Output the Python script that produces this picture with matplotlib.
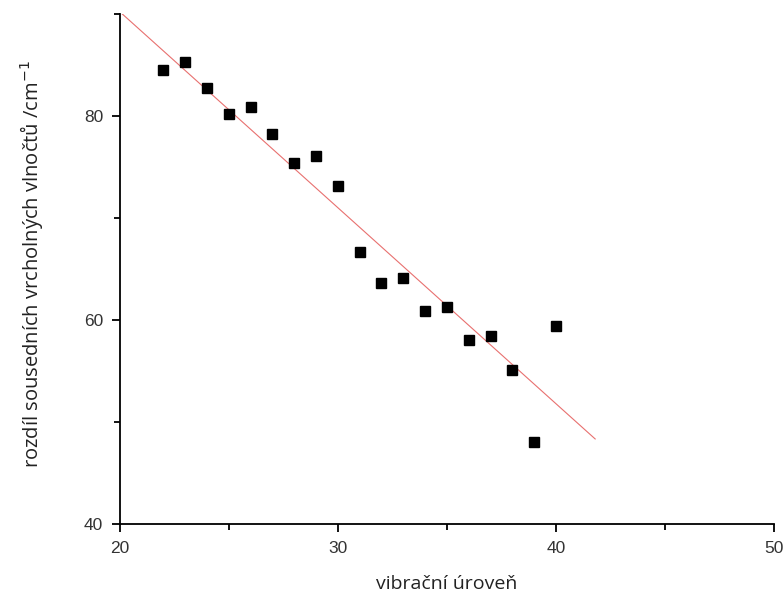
import matplotlib.pyplot as plt
import numpy as np
from matplotlib.ticker import MultipleLocator

# data
level = [22, 23, 24, 25, 26, 27, 28, 29, 30, 31, 32, 33, 34, 35, 36, 37, 38, 39, 40]
diff = [84.5, 85.3, 82.7, 80.2, 80.9, 78.2, 75.4, 76.1, 73.1, 66.7, 63.6, 64.1,
        60.9, 61.3, 58.0, 58.4, 55.1, 48.0, 59.4]

# fitted line
fit_range = [20, 41.8]
fit_slope = -1.92
fit_intercept_at_20 = 90.2

fig = plt.figure(figsize=(7.83, 5.99), dpi=100)
ax = fig.add_axes([0.153, 0.125, 0.8355, 0.852])

fx = np.array(fit_range)
fy = fit_intercept_at_20 + fit_slope * (fx - 20)
ax.plot(fx, fy, color='#e8706f', lw=0.8, zorder=1)
ax.plot(level, diff, 's', color='black', markersize=7, zorder=2)

ax.set_xlim(20, 50)
ax.set_ylim(40, 90)
ax.xaxis.set_major_locator(MultipleLocator(10))
ax.xaxis.set_minor_locator(MultipleLocator(5))
ax.yaxis.set_major_locator(MultipleLocator(20))
ax.yaxis.set_minor_locator(MultipleLocator(10))

ax.spines['top'].set_visible(False)
ax.spines['right'].set_visible(False)
for s in ['left', 'bottom']:
    ax.spines[s].set_linewidth(1.3)

ax.tick_params(which='major', direction='out', length=6, width=1.3,
               labelsize=12.5, pad=6)
ax.tick_params(which='minor', direction='out', length=4, width=1.3)
for lab in ax.get_xticklabels() + ax.get_yticklabels():
    lab.set_family(['Liberation Sans', 'DejaVu Sans'])
    lab.set_color('#333333')

ax.set_xlabel('vibrační úroveň', family=['Open Sans', 'DejaVu Sans'],
              fontsize=14, color='#222222')
ax.xaxis.set_label_coords(0.5, -0.1)
ax.set_ylabel('rozdíl sousedních vrcholných vlnočtů /cm$^{-1}$',
              family=['Open Sans', 'DejaVu Sans'], fontsize=14.5,
              color='#222222')
ax.yaxis.set_label_coords(-0.115, 0.51)

fig.savefig('out.png', dpi=100)
